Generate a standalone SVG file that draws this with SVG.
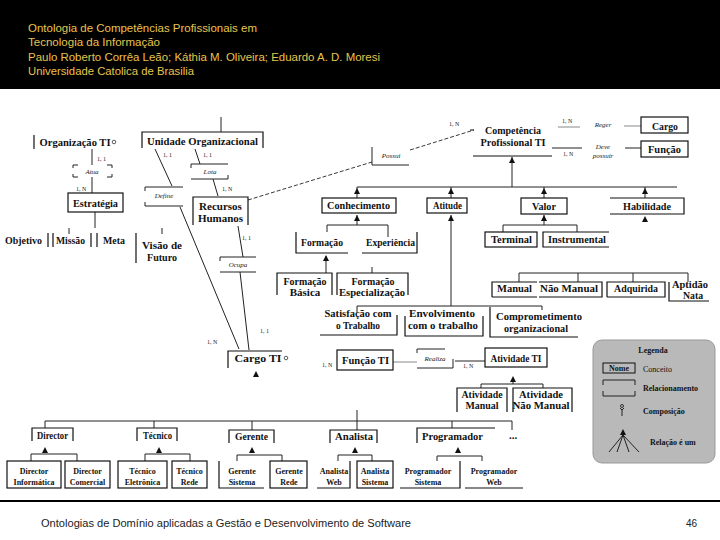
<svg xmlns="http://www.w3.org/2000/svg" width="720" height="540" viewBox="0 0 720 540">
<defs>
<style>
.t{font-family:"Liberation Sans","DejaVu Sans",sans-serif;font-size:11px;fill:#e8c44f}
.f{font-family:"Liberation Sans","DejaVu Sans",sans-serif;font-size:10px;fill:#222}
.c{font-family:"Liberation Serif",serif;font-weight:bold;font-size:11px;text-anchor:middle;fill:#111}
.s{font-family:"Liberation Serif",serif;font-weight:bold;font-size:8px;text-anchor:middle;fill:#111}
.r{font-family:"Liberation Serif",serif;font-style:italic;font-size:7px;text-anchor:middle;fill:#222}
.k{font-family:"Liberation Serif",serif;font-size:6px;fill:#222}
.b{fill:none;stroke:#111;stroke-width:1.2}
.g{fill:none;stroke:#888;stroke-width:1}
.d{fill:none;stroke:#222;stroke-width:0.9;stroke-dasharray:4,2}
.ln{fill:none;stroke:#222;stroke-width:1}
.lg{font-family:"Liberation Serif",serif;font-size:8px;fill:#111}
</style>
<path id="ar" d="M0,0 L-3,6 L3,6 Z" fill="#111"/>
</defs>
<rect x="0" y="0" width="720" height="540" fill="#fff"/>
<rect x="0" y="0" width="720" height="89" fill="#000"/>
<g id="header">
<text class="t" x="28" y="32" textLength="229" lengthAdjust="spacingAndGlyphs">Ontologia de Competências Profissionais em</text>
<text class="t" x="28" y="46" textLength="132" lengthAdjust="spacingAndGlyphs">Tecnologia da Informação</text>
<text class="t" x="28" y="61" textLength="352" lengthAdjust="spacingAndGlyphs">Paulo Roberto Corrêa Leão; Káthia M. Oliveira; Eduardo A. D. Moresi</text>
<text class="t" x="28" y="75" textLength="166" lengthAdjust="spacingAndGlyphs">Universidade Catolica de Brasilia</text>
</g>

<g id="connectors">
<path class="ln" d="M92,149V165M92,177V193"/>
<text class="k" x="97" y="161">1, 1</text>
<text class="k" x="76" y="191">1, N</text>
<path class="ln" d="M95,212V228M69,228V234M162,228V234"/>
<path class="ln" d="M221,117V132"/>
<path class="ln" d="M155,149L172,186M180,207L239,349"/>
<text class="k" x="163" y="157">1, 1</text>
<path class="ln" d="M195,149L200,164M213,179L218,196"/>
<text class="k" x="203" y="157">1, 1</text>
<text class="k" x="222" y="191">1, N</text>
<path class="ln" d="M238,226L243,257M240,272L249,350"/>
<text class="k" x="242" y="240">1, 1</text>
<text class="k" x="260" y="333">1, 1</text>
<text class="k" x="207" y="344">1, N</text>
<path class="d" d="M248,200L372,162M410,150L474,130"/>
<text class="k" x="449" y="126">1, N</text>
<path class="g" d="M558,127H580M624,126H641"/>
<text class="k" x="562" y="123">1, N</text>
<path class="ln" d="M552,148H582M625,148H641"/>
<text class="k" x="563" y="156">1, N</text>
<path class="ln" d="M512,157V187M357,187H677M357,187V198M451,187V198M544,187V198M645,187V198"/>
<use href="#ar" x="512" y="157"/>
<use href="#ar" x="357" y="188"/>
<use href="#ar" x="451" y="188"/>
<use href="#ar" x="544" y="188"/>
<use href="#ar" x="645" y="188"/>
<path class="ln" d="M357,215V225M327,225H388M327,225V232M388,225V237"/>
<use href="#ar" x="357" y="215"/>
<path class="ln" d="M326,256V273M372,267V273"/>
<use href="#ar" x="326" y="255"/>
<path class="ln" d="M544,215V225M503,225H577M503,225V232M577,225V232"/>
<use href="#ar" x="544" y="215"/>
<use href="#ar" x="645" y="216"/>
<path class="ln" d="M519,273H688M519,273V282M578,273V282M633,273V282M688,273V282"/>
<path class="ln" d="M451,215V306M357,306H542M357,306V312M542,306V310"/>
<use href="#ar" x="451" y="215"/>
<text class="k" x="322" y="367">1, N</text>
<path class="g" d="M393,362H417"/>
<path class="ln" d="M455,361H485"/>
<text class="k" x="463" y="368">1, N</text>
<path class="ln" d="M513,378V384M481,384H543M481,384V388M543,384V388"/>
<use href="#ar" x="513" y="376"/>
<use href="#ar" x="256" y="371"/>
<path class="ln" d="M357,410V430M45,421H512M45,421V428M154,421V428M252,421V430M452,421V428M512,421V430"/>
<use href="#ar" x="45" y="447"/>
<use href="#ar" x="159" y="447"/>
<use href="#ar" x="252" y="447"/>
<use href="#ar" x="355" y="447"/>
<use href="#ar" x="458" y="447"/>
<path class="ln" d="M31,454H77M31,454V461M77,454V461"/>
<path class="ln" d="M145,454H190M145,454V461M190,454V461"/>
<path class="ln" d="M237,455H282M237,455V461M282,455V461"/>
<path class="ln" d="M338,455H372M338,455V461M372,455V461"/>
<path class="ln" d="M437,456H482M437,456V461M482,456V461"/>
</g>

<g id="organizacao-ti"><path class="b" d="M34,135V149"/><text class="c" x="75" y="146" textLength="71" lengthAdjust="spacingAndGlyphs">Organização TI</text><circle cx="114" cy="142" r="1.8" fill="none" stroke="#333" stroke-width="0.8"/></g>
<g id="atua"><path class="ln" d="M73,165h5M73,165v3M107,165h5M112,165v3M73,177h5M73,177v-3M107,177h5M112,177v-3"/><text class="r" x="92" y="174">Atua</text></g>
<g id="estrategia"><rect class="b" x="68" y="193" width="55" height="19"/><text class="c" x="95.5" y="207" textLength="45" lengthAdjust="spacingAndGlyphs">Estratégia</text></g>
<g id="objetivo"><path class="b" d="M48,233V247"/><text class="c" x="23.5" y="244" textLength="37" lengthAdjust="spacingAndGlyphs">Objetivo</text></g>
<g id="missao"><path class="b" d="M53,233V247M91,233V247"/><text class="c" x="70.5" y="244" textLength="29" lengthAdjust="spacingAndGlyphs">Missão</text></g>
<g id="meta"><path class="b" d="M97,233V247"/><text class="c" x="114" y="244" textLength="22" lengthAdjust="spacingAndGlyphs">Meta</text></g>
<g id="visao-de-futuro"><path class="b" d="M136,233V263"/><text class="c" x="162" y="249" textLength="40" lengthAdjust="spacingAndGlyphs">Visão de</text><text class="c" x="162" y="261" textLength="30" lengthAdjust="spacingAndGlyphs">Futuro</text></g>
<g id="unidade-organizacional"><path class="b" d="M142,148V132H263V148"/><text class="c" x="202.5" y="145" textLength="111" lengthAdjust="spacingAndGlyphs">Unidade Organizacional</text></g>
<g id="define"><path class="ln" d="M145,191V187H183M145,202V206H183"/><text class="r" x="164" y="198">Define</text></g>
<g id="lota"><path class="ln" d="M191,168V164H228M191,179H228V175"/><text class="r" x="210" y="174">Lota</text></g>
<g id="recursos-humanos"><path class="b" d="M193,225V197H248V225"/><text class="c" x="220.5" y="210">Recursos</text><text class="c" x="220.5" y="222">Humanos</text></g>
<g id="ocupa"><path class="ln" d="M220,261V257H256M220,272H256"/><text class="r" x="238" y="267">Ocupa</text></g>
<g id="cargo-ti"><path class="b" d="M228,368V351H282"/><text class="c" x="258" y="362" font-size="12" textLength="47" lengthAdjust="spacingAndGlyphs">Cargo TI</text><circle cx="286" cy="358" r="1.8" fill="none" stroke="#333" stroke-width="0.8"/></g>
<g id="possui"><path class="ln" d="M372,147V165H409"/><text class="r" x="391" y="158">Possui</text></g>
<g id="competencia"><path class="b" d="M473,156H552M470,130H474"/><text class="c" x="513" y="134" textLength="56" lengthAdjust="spacingAndGlyphs">Competência</text><text class="c" x="513" y="146" textLength="65" lengthAdjust="spacingAndGlyphs">Profissional TI</text></g>
<g id="reger"><text class="r" x="603" y="127">Reger</text></g>
<g id="deve-possuir"><text class="r" x="603" y="149">Deve</text><text class="r" x="603" y="158">possuir</text></g>
<g id="cargo"><rect class="b" x="641" y="117" width="47" height="16"/><text class="c" x="665" y="130" textLength="26" lengthAdjust="spacingAndGlyphs">Cargo</text></g>
<g id="funcao"><rect class="b" x="641" y="141" width="47" height="16"/><text class="c" x="664.5" y="153" textLength="33" lengthAdjust="spacingAndGlyphs">Função</text></g>
<g id="conhecimento"><rect class="b" x="322" y="198" width="74" height="15"/><text class="c" x="358.5" y="209" textLength="63" lengthAdjust="spacingAndGlyphs">Conhecimento</text></g>
<g id="atitude"><rect class="b" x="427" y="198" width="40" height="15"/><text class="c" x="447.5" y="209" textLength="29" lengthAdjust="spacingAndGlyphs">Atitude</text></g>
<g id="valor"><rect class="b" x="521" y="198" width="46" height="16"/><text class="c" x="544" y="209.5" textLength="24" lengthAdjust="spacingAndGlyphs">Valor</text></g>
<g id="habilidade"><path class="b" d="M610,198H684V214H610"/><text class="c" x="647" y="209.5" textLength="48" lengthAdjust="spacingAndGlyphs">Habilidade</text></g>
<g id="formacao"><path class="b" d="M296,232V253H348"/><text class="c" x="322" y="246" textLength="42" lengthAdjust="spacingAndGlyphs">Formação</text></g>
<g id="experiencia"><path class="b" d="M362,253H417V232"/><text class="c" x="390.5" y="246" textLength="49" lengthAdjust="spacingAndGlyphs">Experiência</text></g>
<g id="terminal"><rect class="b" x="485" y="232" width="52" height="15"/><text class="c" x="511.5" y="243" textLength="41" lengthAdjust="spacingAndGlyphs">Terminal</text></g>
<g id="instrumental"><path class="b" d="M609,232H543V247H609"/><text class="c" x="577" y="243" textLength="58" lengthAdjust="spacingAndGlyphs">Instrumental</text></g>
<g id="formacao-basica"><path class="b" d="M277,295V273H332V295"/><text class="c" x="305" y="285" textLength="43" lengthAdjust="spacingAndGlyphs">Formação</text><text class="c" x="305" y="296" font-size="10.5">Básica</text></g>
<g id="formacao-especializacao"><path class="b" d="M337,295V273H408V295"/><text class="c" x="373" y="285" textLength="43" lengthAdjust="spacingAndGlyphs">Formação</text><text class="c" x="372" y="296" textLength="66" lengthAdjust="spacingAndGlyphs">Especialização</text></g>
<g id="manual"><path class="b" d="M492,297V282H537M492,297H537"/><text class="c" x="514.5" y="292" textLength="35" lengthAdjust="spacingAndGlyphs">Manual</text></g>
<g id="nao-manual"><path class="b" d="M539,282H602V297H539"/><text class="c" x="569" y="292" textLength="58" lengthAdjust="spacingAndGlyphs">Não Manual</text></g>
<g id="adquirida"><path class="b" d="M607,297V282H665V297H607"/><text class="c" x="636" y="292" textLength="44" lengthAdjust="spacingAndGlyphs">Adquirida</text></g>
<g id="aptidao-nata"><path class="b" d="M669,282V301H709"/><text class="c" x="690" y="288" font-size="10" textLength="36" lengthAdjust="spacingAndGlyphs">Aptidão</text><text class="c" x="693" y="299" font-size="10" textLength="20" lengthAdjust="spacingAndGlyphs">Nata</text></g>
<g id="satisfacao"><path class="b" d="M397,315V335H320"/><text class="c" x="358" y="317" font-size="10.5" textLength="67" lengthAdjust="spacingAndGlyphs">Satisfação com</text><text class="c" x="358" y="329" font-size="10.5" textLength="44" lengthAdjust="spacingAndGlyphs">o Trabalho</text></g>
<g id="envolvimento"><path class="b" d="M405,316V336H483V316"/><text class="c" x="442" y="317" font-size="10.5" textLength="66" lengthAdjust="spacingAndGlyphs">Envolvimento</text><text class="c" x="443" y="329" font-size="10.5" textLength="70" lengthAdjust="spacingAndGlyphs">com o trabalho</text></g>
<g id="comprometimento"><path class="b" d="M490,307V337H578"/><text class="c" x="539" y="320" font-size="10.5" textLength="86" lengthAdjust="spacingAndGlyphs">Comprometimento</text><text class="c" x="536" y="332" font-size="10.5" textLength="64" lengthAdjust="spacingAndGlyphs">organizacional</text></g>
<g id="funcao-ti"><rect class="b" x="337" y="350" width="56" height="20"/><text class="c" x="365.5" y="364" textLength="47" lengthAdjust="spacingAndGlyphs">Função TI</text></g>
<g id="realiza"><path class="ln" d="M417,353V349H445M417,368H453V359"/><text class="r" x="435" y="361">Realiza</text></g>
<g id="atividade-ti"><rect class="b" x="485" y="348" width="62" height="19"/><text class="c" x="516" y="362" textLength="51" lengthAdjust="spacingAndGlyphs">Atividade TI</text></g>
<g id="atividade-manual"><path class="b" d="M457,412V388H507V412"/><text class="c" x="482" y="398" textLength="41" lengthAdjust="spacingAndGlyphs">Atividade</text><text class="c" x="482" y="409" textLength="33" lengthAdjust="spacingAndGlyphs">Manual</text></g>
<g id="atividade-nao-manual"><path class="b" d="M513,412V388H572V412"/><text class="c" x="541" y="398" textLength="44" lengthAdjust="spacingAndGlyphs">Atividade</text><text class="c" x="541" y="409" textLength="57" lengthAdjust="spacingAndGlyphs">Não Manual</text></g>

<g id="director"><path class="b" d="M32,441V428H73V441"/><text class="c" x="52.5" y="439" font-size="10" textLength="31" lengthAdjust="spacingAndGlyphs">Director</text></g>
<g id="tecnico"><path class="b" d="M137,441V428H177V441"/><text class="c" x="157.5" y="439" font-size="10" textLength="29" lengthAdjust="spacingAndGlyphs">Técnico</text></g>
<g id="gerente"><path class="b" d="M229,443V430H274V443"/><text class="c" x="251.5" y="440" font-size="10" textLength="33" lengthAdjust="spacingAndGlyphs">Gerente</text></g>
<g id="analista"><path class="b" d="M330,443V430H377V443"/><text class="c" x="354" y="440" font-size="10" textLength="38" lengthAdjust="spacingAndGlyphs">Analista</text></g>
<g id="programador"><path class="b" d="M417,443V428H495"/><text class="c" x="452.5" y="440" font-size="10" textLength="61" lengthAdjust="spacingAndGlyphs">Programador</text></g>
<g id="etc"><text class="c" x="513" y="439" font-size="10">...</text></g>

<g id="director-informatica"><rect class="b" x="7" y="461" width="54" height="27"/><text class="s" x="34" y="474">Director</text><text class="s" x="34" y="485">Informática</text></g>
<g id="director-comercial"><rect class="b" x="65" y="461" width="45" height="27"/><text class="s" x="87.5" y="474">Director</text><text class="s" x="87.5" y="485">Comercial</text></g>
<g id="tecnico-eletronica"><rect class="b" x="118" y="461" width="49" height="27"/><text class="s" x="142.5" y="474">Técnico</text><text class="s" x="142.5" y="485">Eletrônica</text></g>
<g id="tecnico-rede"><rect class="b" x="172" y="461" width="35" height="27"/><text class="s" x="189.5" y="474">Técnico</text><text class="s" x="189.5" y="485">Rede</text></g>
<g id="gerente-sistema"><path class="b" d="M219,461V488H264"/><text class="s" x="242" y="474">Gerente</text><text class="s" x="242" y="485">Sistema</text></g>
<g id="gerente-rede"><rect class="b" x="270" y="461" width="37" height="27"/><text class="s" x="289" y="474">Gerente</text><text class="s" x="289" y="485">Rede</text></g>
<g id="analista-web"><path class="b" d="M317,488H350V461"/><text class="s" x="334" y="474">Analista</text><text class="s" x="334" y="485">Web</text></g>
<g id="analista-sistema"><rect class="b" x="357" y="461" width="36" height="27"/><text class="s" x="375" y="474">Analista</text><text class="s" x="375" y="485">Sistema</text></g>
<g id="programador-sistema"><path class="b" d="M400,488H460V461"/><text class="s" x="428" y="474">Programador</text><text class="s" x="428" y="485">Sistema</text></g>
<g id="programador-web"><path class="b" d="M465,488H523"/><text class="s" x="494" y="474">Programador</text><text class="s" x="494" y="485">Web</text></g>

<g id="legenda">
<rect x="593" y="340" width="122" height="123" rx="9" fill="#b9b9b9" stroke="#999" stroke-width="1"/>
<text class="lg" x="653" y="353" text-anchor="middle" font-weight="bold">Legenda</text>
<rect x="603" y="363" width="32" height="10" fill="none" stroke="#111" stroke-width="1"/>
<text class="lg" x="619" y="371" text-anchor="middle" font-weight="bold" font-size="7">Nome</text>
<text class="lg" x="643" y="372">Conceito</text>
<path class="ln" d="M603,385V380H635V385M603,391V396H635V391"/>
<text class="lg" x="643" y="391" font-weight="bold">Relacionamento</text>
<circle cx="622" cy="406" r="1.5" fill="none" stroke="#111" stroke-width="0.8"/>
<path class="ln" d="M620,408L622,410L624,408M622,410V416"/>
<text class="lg" x="643" y="414" font-weight="bold">Composição</text>
<use href="#ar" x="623" y="429"/>
<path class="ln" d="M623,435L609,452M623,435L617,452M623,435L629,452M623,435L639,452" stroke-width="0.7"/>
<text class="lg" x="650" y="445" font-weight="bold">Relação é um</text>
</g>

<path d="M0,501H720" stroke="#000" stroke-width="2"/>
<g id="footer">
<text class="f" x="41" y="527" textLength="370" lengthAdjust="spacingAndGlyphs">Ontologias de Domínio aplicadas a Gestão e Desenvolvimento de Software</text>
<text class="f" x="686" y="527">46</text>
</g>
</svg>
